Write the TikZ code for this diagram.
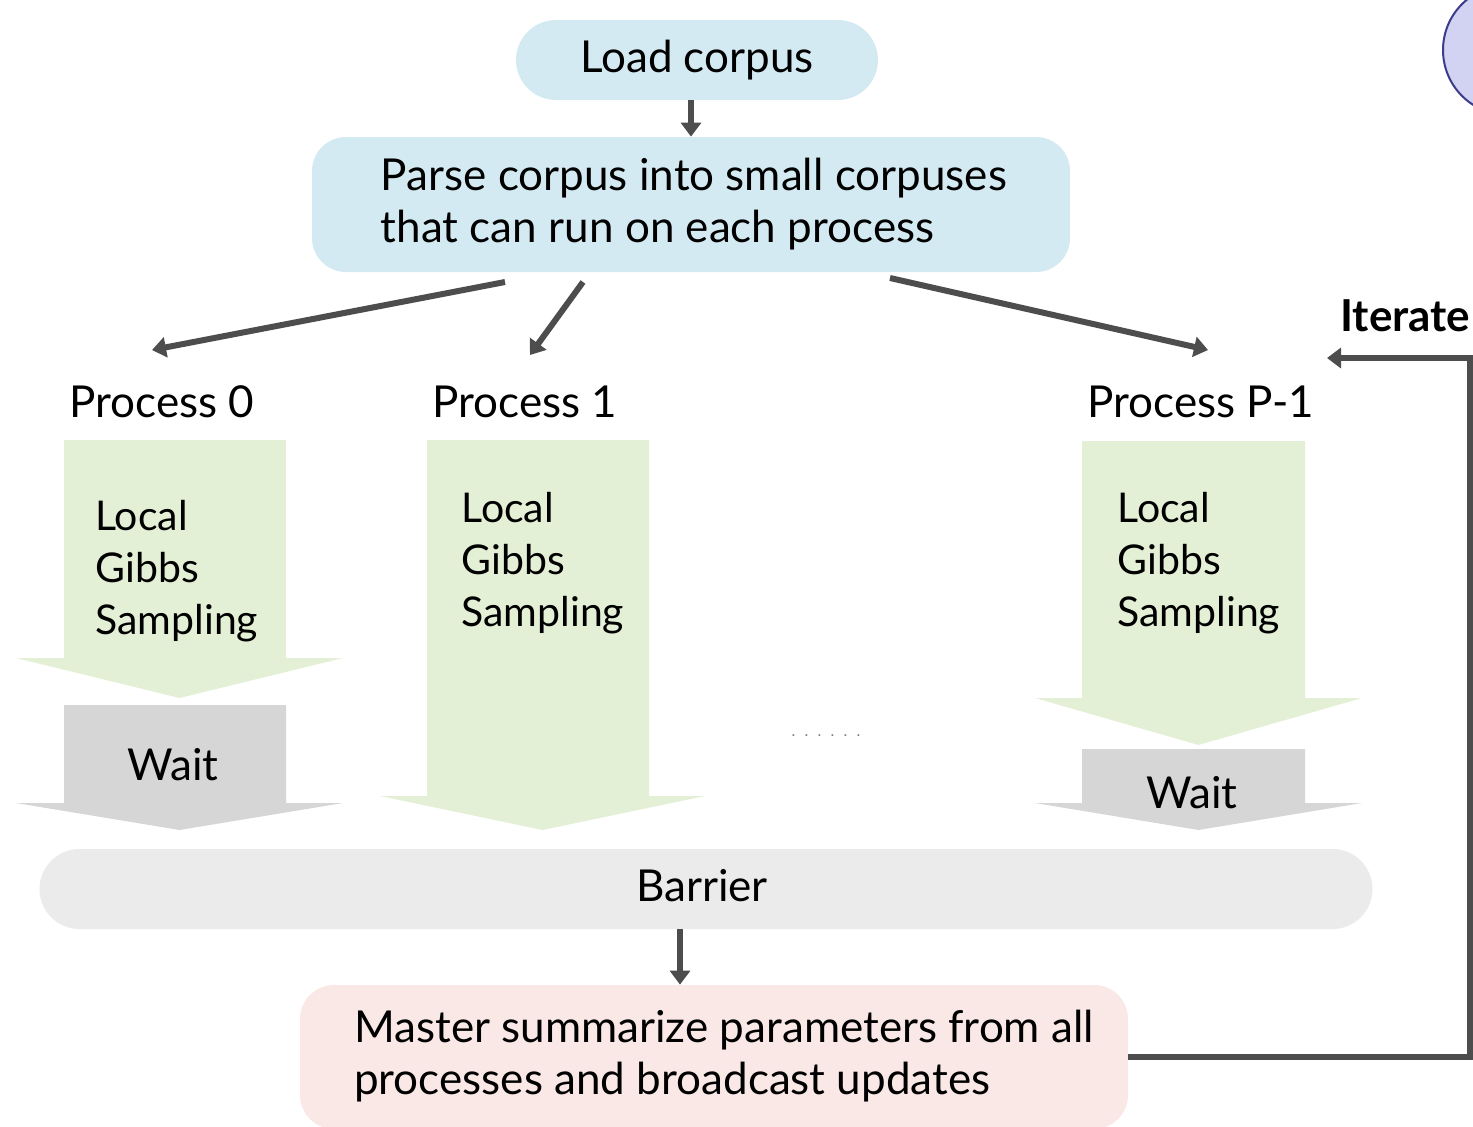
\documentclass[tikz,border=0pt]{standalone}
\usepackage{fontspec}
\setmainfont{Lato}
\usetikzlibrary{arrows.meta,calc}
\definecolor{boxblue}{HTML}{D4EAF2}
\definecolor{boxgreen}{HTML}{E4F0D5}
\definecolor{boxgray}{HTML}{D6D6D6}
\definecolor{barriergray}{HTML}{EBEBEB}
\definecolor{boxpink}{HTML}{F9E8E5}
\definecolor{linegray}{HTML}{4D4D4D}
\definecolor{circfill}{HTML}{D2D2F3}
\definecolor{circedge}{HTML}{3C3C8C}
% block arrow: shaft left x, shaft right x, top y, shoulder y, tip y,
% colour, head left x, head right x
\newcommand\flowarrow[8]{%
  \fill[#6] (#1,#3) -- (#2,#3) -- (#2,#4) -- (#8,#4)
    -- ({(#7+#8)/2},#5) -- (#7,#4) -- (#1,#4) -- cycle;}
\begin{document}
\begin{tikzpicture}[x=0.5pt,y=-0.5pt,
  txt/.style={font=\fontsize{22}{26}\selectfont, inner sep=0pt},
  roundbox/.style={txt, rounded corners=17pt, align=left},
  arr/.style={draw=linegray, line width=3pt,
    -{Triangle[length=7pt,width=10pt]}},
  steplabel/.style={inner sep=0pt, font=\fontsize{20.5}{26}\selectfont,
    anchor=base west, align=left}]
\useasboundingbox (0,0) rectangle (1473,1126);
\clip (0,0) rectangle (1473,1126);

% partly visible circle in the corner
\draw[fill=circfill, draw=circedge, line width=1pt] (1508,50) circle[radius=32.5pt];

% top boxes
\node[roundbox, fill=boxblue, minimum width=181pt, minimum height=40pt, rounded corners=20pt]
  (load) at (697,60) {Load corpus};
\node[roundbox, fill=boxblue, minimum width=379pt, minimum height=67.5pt]
  (parse) at (691,204.5) {};
\node[txt, align=left] (parsetext) at (694,204.5) {Parse corpus into small corpuses\\that can run on each process};
\draw[arr] (load.south -| parse.north) -- (parse.north);

% fan-out connectors
\coordinate (s0) at (505,282);
\coordinate (s1) at (583,282);
\coordinate (s2) at (890,278);
\coordinate (e0) at (152,350);
\coordinate (e1) at (530,355);
\coordinate (e2) at (1208,350);
\draw[arr] (s0) -- (e0);
\draw[arr] (s1) -- (e1);
\draw[arr] (s2) -- (e2);

% process labels
\node[txt, anchor=west] (p0) at (69,402) {Process 0};
\node[txt, anchor=west] (p1) at (432,402) {Process 1};
\node[txt, anchor=west] (p2) at (1087,402) {Process P-1};

% block arrows
\flowarrow{64}{286}{440}{658}{698}{boxgreen}{16}{343}
\flowarrow{64}{286}{705}{803}{830}{boxgray}{16}{343}
\flowarrow{427}{649}{440}{796}{830}{boxgreen}{380}{705}
\flowarrow{1082}{1305}{441}{698}{745}{boxgreen}{1035}{1362}
\flowarrow{1082}{1305}{749}{803}{830}{boxgray}{1035}{1362}

% base anchor sits on the last line
\node[steplabel] (g0) at (95,634) {Local\\Gibbs\\Sampling};
\node[steplabel] (g1) at (461,626) {Local\\Gibbs\\Sampling};
\node[steplabel] (g2) at (1117,626) {Local\\Gibbs\\Sampling};
\node[txt] (w0) at (173,765) {Wait};
\node[txt] (w2) at (1192,793) {Wait};

% ellipsis between processes
\node[inner sep=0pt, text=gray, font=\fontsize{8}{8}\selectfont] (dots) at (826,736)
  {.\hskip4.6pt.\hskip4.6pt.\hskip4.6pt.\hskip4.6pt.\hskip4.6pt.};

% barrier and master
\node[txt, fill=barriergray, minimum width=666.5pt, minimum height=40pt, rounded corners=20pt]
  (barrier) at (706,889) {};
\node[txt] (barriertext) at (702,886) {Barrier};
\node[roundbox, fill=boxpink, minimum width=414pt, minimum height=72pt]
  (master) at (714,1057) {};
\node[txt, align=left] (mastertext) at (724,1056) {Master summarize parameters from all\\processes and broadcast updates};
\coordinate (bx) at (680,0);
\draw[arr] (barrier.south -| bx) -- (master.north -| bx);

% iteration loop
\coordinate (la) at (1470,1057);
\coordinate (lb) at (1470,358);
\coordinate (lc) at (1327,358);
\draw[arr, -] (master.east) -- (la) -- (lb) -- ($(lc)+(6,0)$);
\draw[arr] ($(lc)+(8,0)$) -- (lc);
\node[txt, font=\bfseries\fontsize{22}{26}\selectfont, anchor=west] (iter) at (1340,316) {Iterate};
\end{tikzpicture}
\end{document}
